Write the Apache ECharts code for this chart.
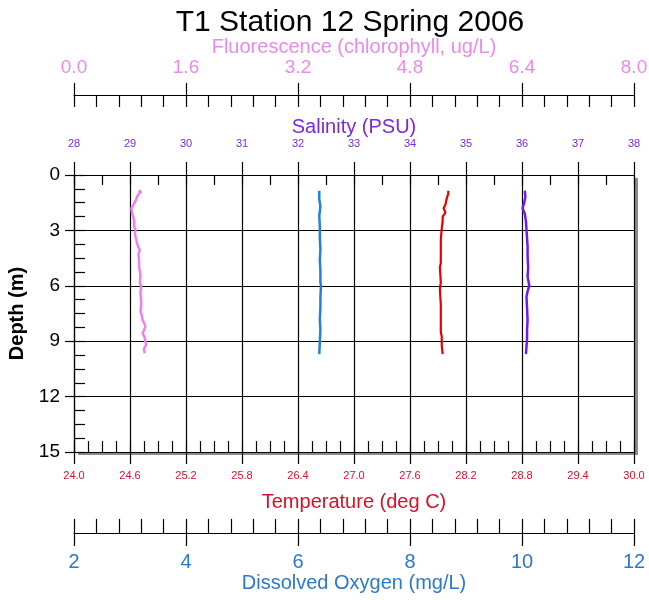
<!DOCTYPE html>
<html>
<head>
<meta charset="utf-8">
<script src="https://cdn.jsdelivr.net/npm/echarts@6/dist/echarts.min.js"></script>
<style>
html,body{margin:0;padding:0;background:#fff;}
#chart{width:649px;height:600px;}
</style>
</head>
<body>
<div id="chart"></div>
<script>
// ---- data ----
var chartTitle = 'T1 Station 12 Spring 2006';

var depthTicks = [0, 3, 6, 9, 12, 15];
var tempTicks = ['24.0','24.6','25.2','25.8','26.4','27.0','27.6','28.2','28.8','29.4','30.0'];
var salTicks = [28,29,30,31,32,33,34,35,36,37,38];
var fluorTicks = ['0.0','1.6','3.2','4.8','6.4','8.0'];
var doTicks = [2,4,6,8,10,12];

var fluorDepth = [0.85, 0.9, 0.95, 1.0, 1.05, 1.2, 1.4, 1.6, 1.8, 1.9, 2.1, 2.3, 2.5, 2.8, 3.0, 3.2, 3.5, 3.7, 3.9, 4.06, 4.3, 4.6, 4.96, 5.2, 5.5, 5.8, 6.05, 6.4, 6.8, 7.1, 7.4, 7.6, 7.85, 8.0, 8.2, 8.4, 8.57, 8.8, 9.0, 9.2, 9.4, 9.65];
var fluorValue = [0.92, 0.96, 0.97, 0.95, 0.92, 0.90, 0.88, 0.85, 0.82, 0.81, 0.83, 0.85, 0.86, 0.86, 0.88, 0.87, 0.89, 0.90, 0.92, 0.94, 0.92, 0.93, 0.93, 0.94, 0.95, 0.94, 0.96, 0.95, 0.96, 0.96, 0.95, 0.97, 0.98, 1.00, 1.02, 1.00, 0.98, 1.01, 1.02, 1.03, 1.00, 1.01];

var doDepth = [0.85, 1.3, 1.7, 2.2, 2.8, 3.4, 4.0, 4.6, 5.2, 5.8, 6.0, 6.6, 7.2, 7.8, 8.4, 9.0, 9.7];
var doValue = [6.38, 6.38, 6.40, 6.38, 6.39, 6.39, 6.40, 6.39, 6.40, 6.40, 6.41, 6.40, 6.40, 6.39, 6.40, 6.39, 6.38];

var tempDepth = [0.85, 1.0, 1.35, 1.6, 1.8, 2.04, 2.26, 2.5, 2.9, 3.5, 4.2, 4.76, 5.0, 5.8, 6.2, 7.0, 7.8, 8.5, 8.75, 9.2, 9.7];
var tempValue = [28.01, 28.01, 27.99, 27.98, 27.96, 27.98, 27.95, 27.95, 27.94, 27.93, 27.93, 27.93, 27.92, 27.93, 27.92, 27.93, 27.93, 27.93, 27.94, 27.94, 27.95];

var salDepth = [0.85, 1.2, 1.5, 1.8, 2.1, 2.5, 2.98, 3.4, 3.88, 4.4, 5.0, 5.5, 6.0, 6.3, 6.6, 7.2, 7.85, 8.4, 8.93, 9.3, 9.7];
var salValue = [36.05, 36.06, 36.04, 36.01, 36.05, 36.07, 36.08, 36.09, 36.10, 36.10, 36.11, 36.10, 36.13, 36.10, 36.08, 36.09, 36.10, 36.09, 36.09, 36.08, 36.07];

// ---- styling ----
var FONT = "'Liberation Sans', Arial, sans-serif";
var C_PINK = '#ea8aea', C_PINK_LINE = '#ee80ee';
var C_PURPLE = '#7d28d8', C_PURPLE_LINE = '#7418f0';
var C_RED = '#d8102a', C_RED_LINE = '#e80000';
var C_BLUE = '#2a78d0', C_BLUE_LINE = '#2080e0';

function zip(vals, depths){ return vals.map(function(v,i){ return [v, depths[i]]; }); }
function tickFmt(list, min, step){ return function(v){ var i = Math.round((v-min)/step); return list[i] !== undefined ? String(list[i]) : ''; }; }

var black = {color:'#000', width:1.2};

function majorAxis(o){
  return Object.assign({
    type:'value', gridIndex:0,
    axisLine:{show:true, onZero:false, lineStyle:black},
    axisTick:{show:true, inside:false, lineStyle:black},
    splitLine:{show:false},
    minorTick:{show:false},
    nameLocation:'middle'
  }, o);
}
function minorAxis(o){
  return Object.assign({
    type:'value', gridIndex:0,
    axisLine:{show:false, onZero:false},
    axisTick:{show:true, inside:true, lineStyle:black},
    axisLabel:{show:false},
    splitLine:{show:false}
  }, o);
}

var option = {
  animation:false,
  backgroundColor:'#fff',
  title:{
    text:chartTitle, left:345, top:3, textAlign:'center',
    textStyle:{fontFamily:FONT, fontSize:30, fontWeight:'normal', color:'#000'}
  },
  grid:{
    left:74, right:15, top:175, bottom:148,
    show:true, backgroundColor:'#fff', borderWidth:0,
    shadowColor:'#8c8c8c', shadowBlur:0, shadowOffsetX:4, shadowOffsetY:3,
    outerBoundsMode:'none', containLabel:false
  },
  xAxis:[
    // 0 temperature
    majorAxis({position:'bottom', min:24, max:30, interval:0.6,
      axisTick:{show:true, length:12, lineStyle:black},
      axisLabel:{color:C_RED, fontSize:11, fontFamily:FONT, margin:18, formatter:tickFmt(tempTicks,24,0.6)},
      splitLine:{show:true, lineStyle:black},
      name:'Temperature (deg C)', nameGap:40,
      nameTextStyle:{color:C_RED, fontSize:20, fontFamily:FONT}}),
    // 1 temperature minor ticks
    minorAxis({position:'bottom', min:24, max:30, interval:0.15, axisTick:{show:true, inside:true, length:11, lineStyle:black}}),
    // 2 salinity
    majorAxis({position:'top', min:28, max:38, interval:1,
      axisTick:{show:true, length:13, lineStyle:black},
      axisLabel:{color:C_PURPLE, fontSize:11, fontFamily:FONT, margin:26, formatter:tickFmt(salTicks,28,1)},
      name:'Salinity (PSU)', nameGap:33,
      nameTextStyle:{color:C_PURPLE, fontSize:20, fontFamily:FONT}}),
    // 3 salinity minor ticks
    minorAxis({position:'top', min:28, max:38, interval:0.5, axisTick:{show:true, inside:true, length:10, lineStyle:black}}),
    // 4 fluorescence
    majorAxis({position:'top', offset:80, min:0, max:8, interval:1.6,
      axisTick:{show:true, length:12, lineStyle:black},
      axisLabel:{color:C_PINK, fontSize:19, fontFamily:FONT, margin:18, formatter:tickFmt(fluorTicks,0,1.6)},
      name:'Fluorescence (chlorophyll, ug/L)', nameGap:35,
      nameTextStyle:{color:C_PINK, fontSize:20, fontFamily:FONT}}),
    // 5 fluorescence minor ticks
    minorAxis({position:'top', offset:80, min:0, max:8, interval:0.32, axisTick:{show:true, inside:true, length:12, lineStyle:black}}),
    // 6 dissolved oxygen
    majorAxis({position:'bottom', offset:81, min:2, max:12, interval:2,
      axisTick:{show:true, length:13, lineStyle:black},
      axisLabel:{color:C_BLUE, fontSize:20, fontFamily:FONT, margin:19, formatter:tickFmt(doTicks,2,2)},
      name:'Dissolved Oxygen (mg/L)', nameGap:40,
      nameTextStyle:{color:C_BLUE, fontSize:20, fontFamily:FONT}}),
    // 7 dissolved oxygen minor ticks
    minorAxis({position:'bottom', offset:81, min:2, max:12, interval:0.4, axisTick:{show:true, inside:true, length:14, lineStyle:black}})
  ],
  yAxis:[
    {type:'value', gridIndex:0, position:'left', inverse:true, min:0, max:15, interval:3,
      axisLine:{show:true, onZero:false, lineStyle:black},
      axisTick:{show:true, length:9, lineStyle:black},
      axisLabel:{color:'#000', fontSize:19, fontFamily:FONT, margin:14, formatter:tickFmt(depthTicks,0,3)},
      splitLine:{show:true, lineStyle:black},
      name:'Depth (m)', nameLocation:'middle', nameRotate:90, nameGap:42,
      nameTextStyle:{color:'#000', fontSize:20, fontWeight:'bold', fontFamily:FONT}},
    {type:'value', gridIndex:0, position:'left', inverse:true, min:0, max:15, interval:0.75,
      axisLine:{show:false, onZero:false},
      axisTick:{show:true, inside:true, length:11, lineStyle:black},
      axisLabel:{show:false}, splitLine:{show:false}}
  ],
  series:[
    {type:'line', name:'Fluorescence', xAxisIndex:4, yAxisIndex:0, data:zip(fluorValue, fluorDepth),
      showSymbol:false, symbol:'none', lineStyle:{color:C_PINK_LINE, width:2.5}, z:5},
    {type:'line', name:'Dissolved Oxygen', xAxisIndex:6, yAxisIndex:0, data:zip(doValue, doDepth),
      showSymbol:false, symbol:'none', lineStyle:{color:C_BLUE_LINE, width:2.5}, z:5},
    {type:'line', name:'Temperature', xAxisIndex:0, yAxisIndex:0, data:zip(tempValue, tempDepth),
      showSymbol:false, symbol:'none', lineStyle:{color:C_RED_LINE, width:2.2}, z:5},
    {type:'line', name:'Salinity', xAxisIndex:2, yAxisIndex:0, data:zip(salValue, salDepth),
      showSymbol:false, symbol:'none', lineStyle:{color:C_PURPLE_LINE, width:2.5}, z:5}
  ]
};

var chart = echarts.init(document.getElementById('chart'), null, {renderer:'canvas'});
chart.setOption(option);
</script>
</body>
</html>
